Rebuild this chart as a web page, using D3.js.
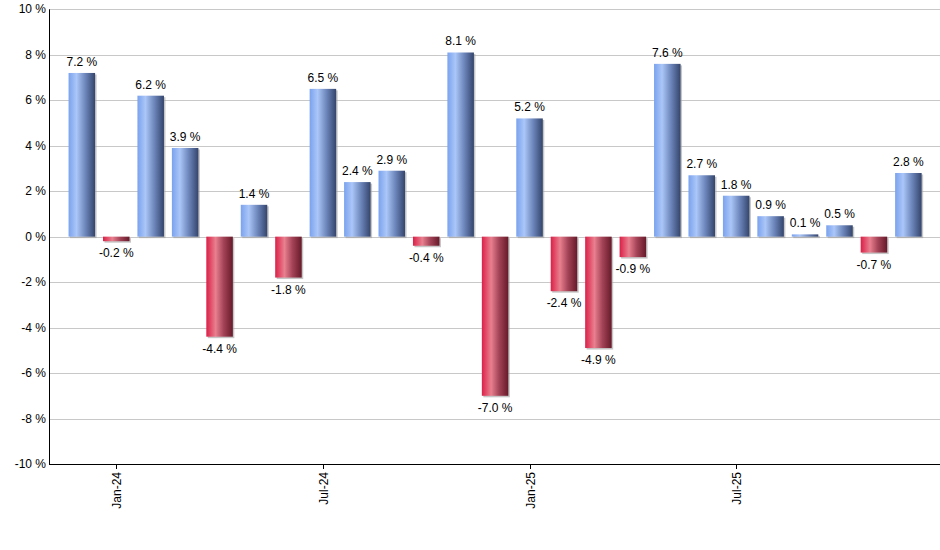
<!DOCTYPE html>
<html>
<head>
<meta charset="utf-8">
<script src="https://cdn.jsdelivr.net/npm/d3@7"></script>
<style>
  body { margin: 0; background: #fff; }
  text { font-family: "Liberation Sans", Arial, sans-serif; font-size: 12px; fill: #000; }
</style>
</head>
<body>
<svg id="chart"></svg>
<script>
const WIDTH = 940;
const HEIGHT = 550;
const LEFT = 49;
const TOP = 9.3;
const BOTTOM = 464;

// monthly returns, Dec-23 .. Dec-25
const months = [
  "Dec-23", "Jan-24", "Feb-24", "Mar-24", "Apr-24", "May-24", "Jun-24",
  "Jul-24", "Aug-24", "Sep-24", "Oct-24", "Nov-24", "Dec-24",
  "Jan-25", "Feb-25", "Mar-25", "Apr-25", "May-25", "Jun-25",
  "Jul-25", "Aug-25", "Sep-25", "Oct-25", "Nov-25", "Dec-25"
];
const returns = [
  7.2, -0.2, 6.2, 3.9, -4.4, 1.4, -1.8,
  6.5, 2.4, 2.9, -0.4, 8.1, -7.0,
  5.2, -2.4, -4.9, -0.9, 7.6, 2.7,
  1.8, 0.9, 0.1, 0.5, -0.7, 2.8
];
const tickMonths = ["Jan-24", "Jul-24", "Jan-25", "Jul-25"];
const yTicks = [-10, -8, -6, -4, -2, 0, 2, 4, 6, 8, 10];

const $svg = d3.select("#chart").attr("width", WIDTH).attr("height", HEIGHT);

const x = d3.scaleBand()
  .domain(months)
  .range([64.6, 925.6])
  .paddingInner(0.23)
  .paddingOuter(0.115);

const y = d3.scaleLinear().domain([-10, 10]).range([BOTTOM, TOP]);

// gradients
const defs = $svg.append("defs");
function addGradient(id, stops) {
  const g = defs.append("linearGradient").attr("id", id)
    .attr("x1", "0%").attr("x2", "100%").attr("y1", "0%").attr("y2", "0%");
  stops.forEach(s => g.append("stop").attr("offset", s[0]).attr("stop-color", s[1]));
}
addGradient("gradUp", [["0%", "#7aa2ee"], ["30%", "#abc6f8"], ["65%", "#6a83b8"], ["100%", "#34456c"]]);
addGradient("gradDown", [["0%", "#dc1f47"], ["35%", "#e8808f"], ["65%", "#a44357"], ["100%", "#661a2a"]]);

// grid
$svg.append("g")
  .selectAll("line")
  .data(yTicks)
  .enter()
  .append("line")
  .attr("x1", LEFT)
  .attr("x2", WIDTH)
  .attr("y1", d => Math.round(y(d)) + 0.5)
  .attr("y2", d => Math.round(y(d)) + 0.5)
  .attr("stroke", "#c8c8c8");

// y labels
$svg.append("g")
  .selectAll("text")
  .data(yTicks)
  .enter()
  .append("text")
  .attr("x", LEFT - 3)
  .attr("y", d => y(d) + 4)
  .attr("text-anchor", "end")
  .text(d => d + " %");

// bar shadows
$svg.append("g")
  .selectAll("rect")
  .data(returns)
  .enter()
  .append("rect")
  .attr("x", (d, i) => x(months[i]) + 1.5)
  .attr("y", d => Math.min(y(d), y(0)) + 1.5)
  .attr("width", x.bandwidth())
  .attr("height", d => Math.abs(y(d) - y(0)))
  .attr("fill", "#a0a0a0")
  .attr("opacity", 0.6);

// bars
$svg.append("g")
  .selectAll("rect")
  .data(returns)
  .enter()
  .append("rect")
  .attr("x", (d, i) => x(months[i]))
  .attr("y", d => Math.min(y(d), y(0)))
  .attr("width", x.bandwidth())
  .attr("height", d => Math.abs(y(d) - y(0)))
  .attr("fill", d => (d >= 0 ? "url(#gradUp)" : "url(#gradDown)"));

// value labels
$svg.append("g")
  .selectAll("text")
  .data(returns)
  .enter()
  .append("text")
  .attr("x", (d, i) => x(months[i]) + x.bandwidth() / 2)
  .attr("y", d => (d >= 0 ? y(d) - 7 : y(d) + 16))
  .attr("text-anchor", "middle")
  .text(d => d.toFixed(1) + " %");

// axes lines
$svg.append("line")
  .attr("x1", LEFT + 0.5).attr("x2", LEFT + 0.5)
  .attr("y1", TOP).attr("y2", BOTTOM + 0.5)
  .attr("stroke", "#000");
$svg.append("line")
  .attr("x1", LEFT).attr("x2", WIDTH)
  .attr("y1", BOTTOM + 0.5).attr("y2", BOTTOM + 0.5)
  .attr("stroke", "#000");

// x ticks
const xt = $svg.append("g")
  .selectAll("g")
  .data(tickMonths)
  .enter()
  .append("g")
  .attr("transform", d => `translate(${Math.round(x(d) + x.bandwidth() / 2) + 0.5},${BOTTOM})`);
xt.append("line").attr("y1", 0).attr("y2", 5).attr("stroke", "#000");
xt.append("text")
  .attr("transform", "rotate(-90)")
  .attr("x", -8)
  .attr("y", 4)
  .attr("text-anchor", "end")
  .text(d => d);
</script>
</body>
</html>
